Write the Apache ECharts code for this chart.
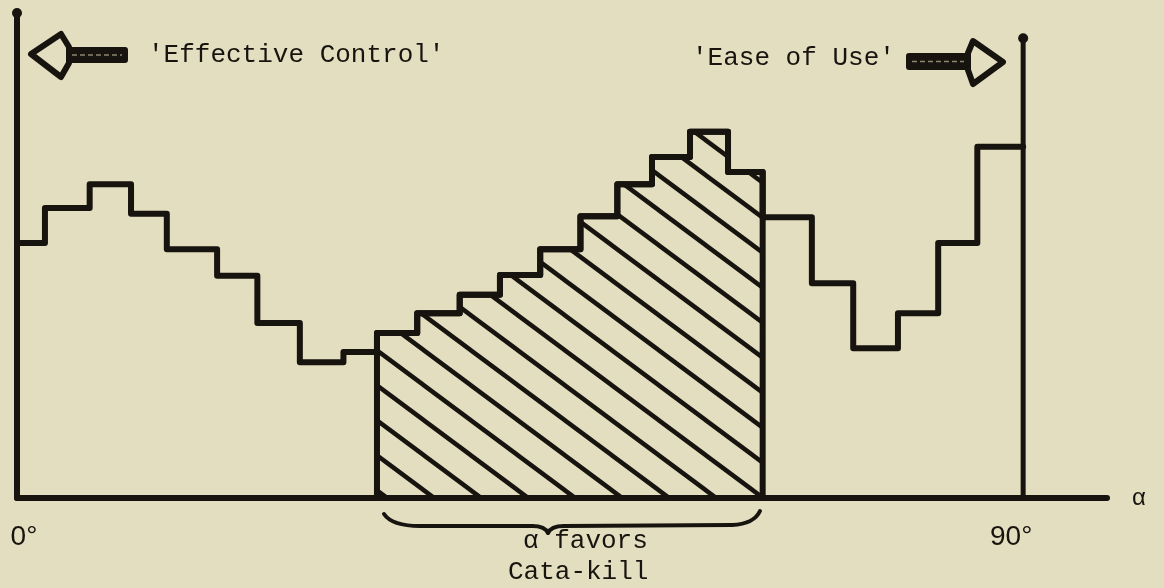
<!DOCTYPE html>
<html>
<head>
<meta charset="utf-8">
<title>alpha favors Cata-kill</title>
<script src="https://cdn.jsdelivr.net/npm/echarts@6/dist/echarts.min.js"></script>
<style>
  html, body { margin: 0; padding: 0; background: #e4dec0; }
  #chart { width: 1164px; height: 588px; }
</style>
</head>
<body>
<div id="chart"></div>
<script>
  // bin edges along alpha (degrees)
  const binEdges = [0, 2.5, 6.5, 10.2, 13.4, 17.9, 21.5, 25.3, 29.2, 32.2, 35.8, 39.6, 43.2,
    46.8, 50.4, 53.7, 56.8, 60.2, 63.6, 66.7, 71.1, 74.8, 78.8, 82.4, 85.9, 90]
  // height of each bin (arbitrary units, 0..100)
  const binValues = [52.6, 59.8, 64.7, 58.6, 51.3, 45.8, 36.1, 28.0, 30.1, 34.0, 38.1, 41.9, 46.0,
    51.3, 58.1, 64.7, 70.3, 75.5, 67.2, 57.9, 44.3, 30.9, 38.1, 52.6, 72.4]
  // bins where alpha favors Cata-kill (hatched), first and last bin index
  const favoredBins = [9, 18]
  // the 90 degree bound line
  const boundLine = [[90, 0], [90, 94.8]]
  const tickValues = [0, 90]

  const ink = '#17130e'
  const paper = '#e4dec0'
  const mono = "'Courier New', 'Liberation Mono', monospace"

  // step line: every bin starts at its left edge, last point closes at 90
  const stepData = binValues.map((v, i) => [binEdges[i], v])
  stepData.push([binEdges[binEdges.length - 1], binValues[binValues.length - 1]])

  // hatched part, dropped to the baseline at both sides
  const hatchData = [[binEdges[favoredBins[0]], 0]]
  for (let i = favoredBins[0]; i <= favoredBins[1]; i++) {
    hatchData.push([binEdges[i], binValues[i]])
  }
  hatchData.push([binEdges[favoredBins[1] + 1], 0])

  /** diagonal hatch tile */
  const makeHatch = () => {
    const w = 47
    const h = 35
    const c = document.createElement('canvas')
    c.width = w
    c.height = h
    const ctx = c.getContext('2d')
    ctx.strokeStyle = ink
    ctx.lineWidth = 4.5
    ;[0.5 - w, 0.5, 0.5 + w].forEach((ox) => {
      ctx.beginPath()
      ctx.moveTo(ox - w, -h)
      ctx.lineTo(ox + 2 * w, 2 * h)
      ctx.stroke()
    })
    return c
  }

  // brace pieces under the favored range
  const braceStyle = { fill: null, stroke: ink, lineWidth: 4, lineCap: 'round' }
  const brace = [
    { type: 'bezierCurve', shape: { x1: 384, y1: 514, cpx1: 392, cpy1: 526, x2: 420, y2: 526 } },
    { type: 'line', shape: { x1: 420, y1: 526, x2: 532, y2: 526 } },
    { type: 'bezierCurve', shape: { x1: 532, y1: 526, cpx1: 545, cpy1: 526, x2: 548, y2: 533 } },
    { type: 'bezierCurve', shape: { x1: 548, y1: 533, cpx1: 551, cpy1: 526, x2: 564, y2: 526 } },
    { type: 'line', shape: { x1: 564, y1: 526, x2: 732, y2: 525 } },
    { type: 'bezierCurve', shape: { x1: 732, y1: 525, cpx1: 754, cpy1: 524, x2: 760, y2: 511 } }
  ].map((el) => ({ ...el, style: braceStyle }))

  const chart = echarts.init(document.getElementById('chart'))
  chart.setOption({
    backgroundColor: paper,
    animation: false,
    grid: { left: 17, right: 57, top: 13, bottom: 90 },
    xAxis: {
      type: 'value',
      min: 0,
      max: 97.5,
      name: 'α',
      nameLocation: 'end',
      nameGap: 25,
      nameTextStyle: { color: ink, fontSize: 24, fontFamily: 'Liberation Sans', verticalAlign: 'middle', padding: [0, 0, 6, 0] },
      splitLine: { show: false },
      axisTick: { show: false },
      axisLine: { lineStyle: { color: ink, width: 6, cap: 'round' } },
      axisLabel: {
        customValues: tickValues,
        margin: 25,
        color: ink,
        fontSize: 28,
        fontFamily: 'Liberation Sans',
        formatter: (v) => (v === 0 ? '{a|' + v + '°}' : '{b|' + v + '°}'),
        rich: {
          a: { fontSize: 28, fontFamily: 'Liberation Sans', color: ink, padding: [0, 0, 0, 14] },
          b: { fontSize: 28, fontFamily: 'Liberation Sans', color: ink, padding: [0, 24, 0, 0] }
        }
      }
    },
    yAxis: {
      type: 'value',
      min: 0,
      max: 100,
      splitLine: { show: false },
      axisTick: { show: false },
      axisLabel: { show: false },
      axisLine: {
        show: true,
        symbol: ['none', 'circle'],
        symbolSize: [10, 10],
        lineStyle: { color: ink, width: 6 }
      }
    },
    series: [
      {
        name: 'favored',
        type: 'line',
        step: 'end',
        data: hatchData,
        symbol: 'none',
        lineStyle: { color: ink, width: 6, join: 'round' },
        areaStyle: { color: { image: makeHatch(), repeat: 'repeat' }, opacity: 1 },
        z: 2
      },
      {
        name: 'profile',
        type: 'line',
        step: 'end',
        data: stepData,
        symbol: 'none',
        lineStyle: { color: ink, width: 6, join: 'round', cap: 'round' },
        z: 3
      },
      {
        name: 'bound',
        type: 'line',
        data: [{ value: boundLine[0], symbol: 'none' }, { value: boundLine[1] }],
        symbol: 'circle',
        symbolSize: 10,
        itemStyle: { color: ink },
        lineStyle: { color: ink, width: 5 },
        z: 3
      }
    ],
    graphic: [
      // left hollow arrow
      { type: 'rect', shape: { x: 66, y: 47, width: 62, height: 16, r: 3 }, style: { fill: ink } },
      { type: 'line', shape: { x1: 72, y1: 55, x2: 122, y2: 55 }, style: { stroke: '#8c8670', lineWidth: 1.5, lineDash: [5, 3] } },
      {
        type: 'polygon',
        shape: { points: [[31, 54], [61, 34], [69, 47], [69, 63], [61, 77]] },
        style: { fill: paper, stroke: ink, lineWidth: 6, lineJoin: 'round' }
      },
      {
        type: 'text', x: 148, y: 42,
        style: { text: "'Effective Control'", font: '26px ' + mono, fill: ink }
      },
      // right hollow arrow
      { type: 'rect', shape: { x: 906, y: 53, width: 64, height: 17, r: 3 }, style: { fill: ink } },
      { type: 'line', shape: { x1: 912, y1: 61.5, x2: 964, y2: 61.5 }, style: { stroke: '#8c8670', lineWidth: 1.5, lineDash: [5, 3] } },
      {
        type: 'polygon',
        shape: { points: [[968, 53], [973, 41], [1003, 62], [973, 84], [968, 70]] },
        style: { fill: paper, stroke: ink, lineWidth: 6, lineJoin: 'round' }
      },
      {
        type: 'text', x: 692, y: 45,
        style: { text: "'Ease of Use'", font: '26px ' + mono, fill: ink }
      },
      ...brace,
      {
        type: 'text', x: 523, y: 528,
        style: { text: 'α favors', font: '26px ' + mono, fill: ink }
      },
      {
        type: 'text', x: 508, y: 559,
        style: { text: 'Cata-kill', font: '26px ' + mono, fill: ink }
      }
    ]
  })
</script>
</body>
</html>
